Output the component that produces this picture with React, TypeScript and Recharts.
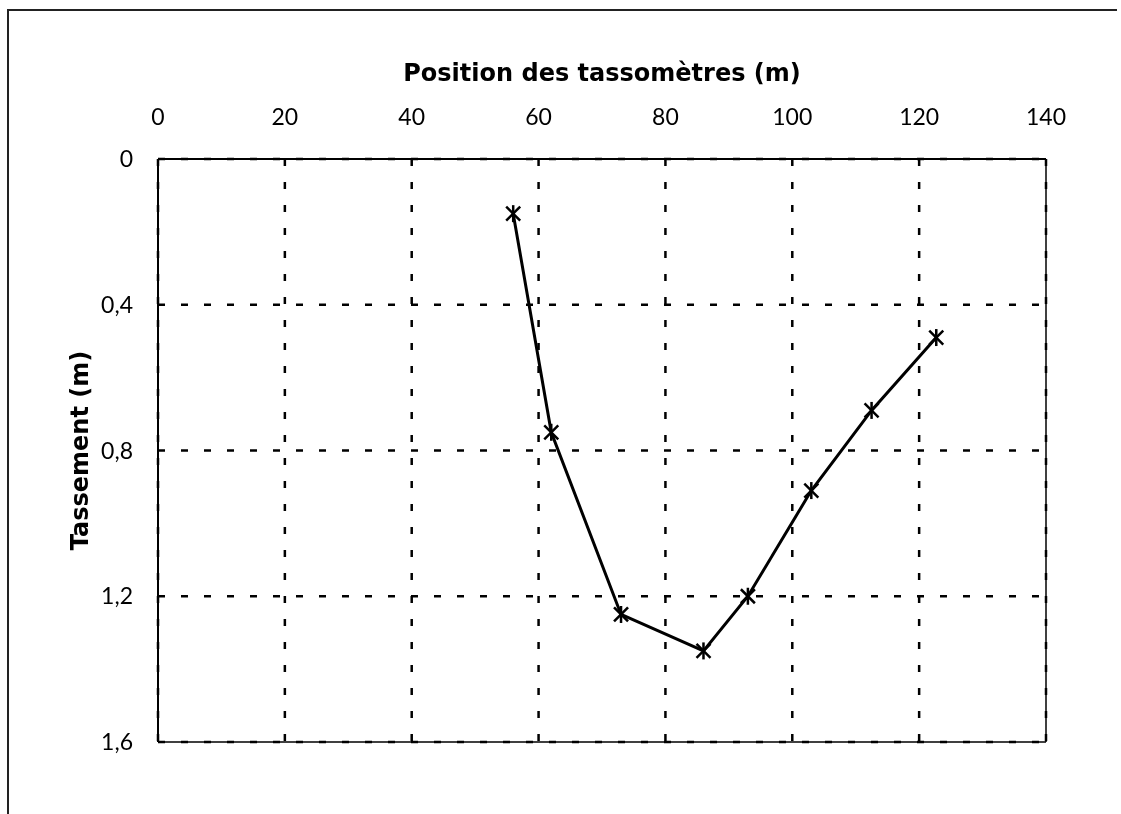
import React from 'react';
import { LineChart, Line, XAxis, YAxis, CartesianGrid, ReferenceLine } from 'recharts';

// Data
const positions = [56, 62, 73, 86, 93, 103, 112.5, 122.7];
const settlements = [0.15, 0.75, 1.25, 1.35, 1.2, 0.91, 0.69, 0.49];
const xTicks = [0, 20, 40, 60, 80, 100, 120, 140];
const yTicks = [0, 0.4, 0.8, 1.2, 1.6];
const xTitle = 'Position des tassomètres (m)';
const yTitle = 'Tassement (m)';

const data = positions.map((x, i) => ({ x, y: settlements[i] }));

const TICK_FONT = 'Lato, "DejaVu Sans", sans-serif';
const TITLE_FONT = '"DejaVu Sans", sans-serif';

const StarDot = (props: any) => {
  const { cx, cy } = props;
  if (cx == null || cy == null) return null;
  const r = 8.5;
  const d = 7;
  return (
    <g stroke="#000" strokeWidth={2.5} key={props.key}>
      <line x1={cx} y1={cy - r} x2={cx} y2={cy + r} />
      <line x1={cx - d} y1={cy - d} x2={cx + d} y2={cy + d} />
      <line x1={cx - d} y1={cy + d} x2={cx + d} y2={cy - d} />
    </g>
  );
};

const XTitle = (props: any) => {
  const vb = props.viewBox || {};
  return (
    <text
      x={vb.x + vb.width / 2}
      y={vb.y - 8}
      textAnchor="middle"
      fontFamily={TITLE_FONT}
      fontWeight="bold"
      fontSize={24}
      fill="#000"
    >
      {xTitle}
    </text>
  );
};

const YTitle = (props: any) => {
  const vb = props.viewBox || {};
  const x = vb.x + 12;
  const y = vb.y + vb.height / 2;
  return (
    <text
      x={x}
      y={y}
      transform={`rotate(-90, ${x}, ${y})`}
      textAnchor="middle"
      dominantBaseline="central"
      fontFamily={TITLE_FONT}
      fontWeight="bold"
      fontSize={24}
      fill="#000"
    >
      {yTitle}
    </text>
  );
};

const fmtY = (v: number) => (v === 0 ? '0' : v.toFixed(1).replace('.', ','));

export default function App() {
  return (
    <div style={{ position: 'relative', width: 1113, height: 806 }}>
      <div
        style={{
          position: 'fixed',
          left: 7,
          top: 9,
          width: 1110,
          height: 1.5,
          background: '#222',
        }}
      />
      <div
        style={{
          position: 'fixed',
          left: 7,
          top: 9,
          width: 1.5,
          height: 805,
          background: '#222',
        }}
      />
      <div style={{ position: 'absolute', left: 0, top: 0 }}>
        <LineChart
          width={1113}
          height={806}
          data={data}
          margin={{ top: 81, right: 75, bottom: 72, left: 60 }}
        >
          <CartesianGrid
            stroke="#000"
            strokeWidth={2.5}
            strokeDasharray="7 16"
          />
          <XAxis
            type="number"
            dataKey="x"
            orientation="top"
            domain={[0, 140]}
            ticks={xTicks}
            height={70}
            tickLine={false}
            tickSize={0}
            tickMargin={34}
            axisLine={{ stroke: '#000', strokeWidth: 2 }}
            tick={{ fontSize: 23, fill: '#000', fontFamily: TICK_FONT }}
            label={XTitle}
            allowDataOverflow
          />
          <YAxis
            type="number"
            dataKey="y"
            reversed
            domain={[0, 1.6]}
            ticks={yTicks}
            width={90}
            tickLine={false}
            tickSize={0}
            tickMargin={25}
            tickFormatter={fmtY}
            axisLine={{ stroke: '#000', strokeWidth: 2 }}
            tick={{ fontSize: 23, fill: '#000', fontFamily: TICK_FONT }}
            label={YTitle}
            allowDataOverflow
          />
          <ReferenceLine x={140} stroke="#000" strokeWidth={1.5} />
          <ReferenceLine y={1.6} stroke="#000" strokeWidth={1.5} />
          <Line
            type="linear"
            dataKey="y"
            stroke="#000"
            strokeWidth={3}
            dot={StarDot}
            activeDot={false}
            isAnimationActive={false}
          />
        </LineChart>
      </div>
    </div>
  );
}
